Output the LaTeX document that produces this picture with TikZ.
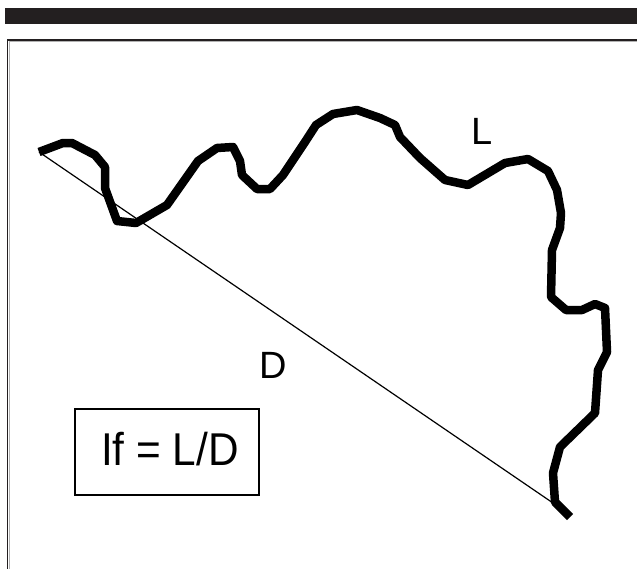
\documentclass[tikz,border=0pt]{standalone}
\usepackage{fontspec}
\setmainfont{Liberation Sans}
\definecolor{barcol}{HTML}{231F20}
\begin{document}
\begin{tikzpicture}[x=1pt,y=-1pt,
  coast/.style={line width=8.5pt,line join=round,line cap=butt},
  chord/.style={line width=1.2pt},
  lbl/.style={inner sep=0pt,font=\fontsize{38}{42}\selectfont},
  framebox/.style={draw=barcol,line width=1.5pt}]
\useasboundingbox (0,0) rectangle (637,568);
\fill[barcol] (5,8) rectangle (640,24);
\draw[framebox] (7.5,645) -- (7.5,40) -- (645,40);
\draw[black!30,line width=0.8pt] (9.5,645) -- (9.5,41.8) -- (645,41.8);
\coordinate (A) at (39,152);
\coordinate (B) at (553,503);
\draw[chord] (A) -- (B);
\draw[coast] (A) -- (63,143) -- (72,143) -- (95,155) -- (105,167) -- (105,188)
  -- (117,221) -- (136,223) -- (167,205) -- (198,161) -- (217,148) -- (233,147)
  -- (240,161) -- (242,175) -- (257,189) -- (270,189) -- (283,175) -- (305,142)
  -- (316,125) -- (333,114) -- (357,110) -- (380,118) -- (395,125) -- (400,137)
  -- (420,158) -- (445,180) -- (468,185) -- (505,163) -- (528,159) -- (548,171)
  -- (557,190) -- (561,213) -- (560,228) -- (552,250) -- (551,297) -- (566,310)
  -- (582,310) -- (595,304) -- (605,308) -- (607,352) -- (598,370) -- (595,413)
  -- (560,447) -- (553,473) -- (555,502) -- (570,517);
\node[lbl] (L) at (482,131) {L};
\node[lbl] (D) at (273,365) {D};
\node[draw,line width=1.2pt,minimum width=184pt,minimum height=86pt,inner sep=0pt] (box) at (167,452) {};
\node[lbl,font=\fontsize{46}{50}\selectfont] (eq) at (170,449) {\scalebox{0.92}[1]{If = L/D}};
\end{tikzpicture}
\end{document}
